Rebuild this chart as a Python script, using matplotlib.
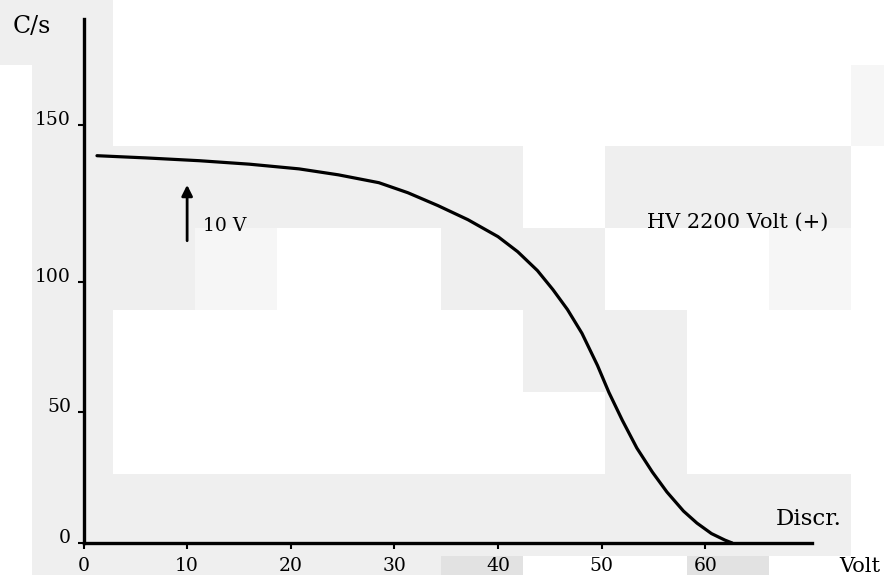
import numpy as np
import matplotlib
matplotlib.use('Agg')
import matplotlib.pyplot as plt
from matplotlib.patches import Rectangle

# Datos (C/s vs umbral del discriminador)
volt = [1.3, 6.0, 11.2, 16.0, 20.8, 24.6, 28.5, 31.3, 34.2, 37.1, 40.0, 41.9,
        43.8, 45.3, 46.7, 48.1, 49.6, 50.7, 52.0, 53.4, 54.9, 56.3, 57.9, 59.2,
        60.6, 61.9, 62.6]
rate = [140.1, 139.4, 138.5, 137.4, 135.9, 134.0, 131.5, 128.3, 124.2, 119.7,
        114.3, 109.5, 103.5, 96.9, 89.3, 80.2, 67.9, 57.6, 46.9, 36.3, 27.1,
        19.5, 12.2, 7.6, 3.6, 1.1, 0.0]
xticks = [0, 10, 20, 30, 40, 50, 60]
yticks = [0, 50, 100, 150]

# flecha de 10 V
arrow_x = 10
arrow_y0, arrow_y1 = 113, 130.8

W, H = 884, 575
fig = plt.figure(figsize=(W / 100, H / 100), dpi=100)
fig.patch.set_facecolor('white')

# fondo escaneado (bloques grises)
G, L, D = '#efefef', '#f6f6f6', '#e2e2e2'
blocks = [
    (0, 0, 113, 65, G), (32, 65, 113, 146, G), (851, 65, 884, 146, L),
    (32, 146, 523, 228, G), (605, 146, 851, 228, G),
    (32, 228, 195, 310, G), (195, 228, 277, 310, L), (441, 228, 605, 310, G),
    (769, 228, 851, 310, L),
    (32, 310, 113, 474, G), (523, 310, 687, 392, G), (605, 392, 687, 474, G),
    (32, 474, 851, 556, G), (32, 556, 441, 575, G),
    (441, 556, 523, 575, D), (687, 556, 769, 575, D),
]
for x0, y0, x1, y1, c in blocks:
    fig.add_artist(Rectangle((x0 / W, 1 - y1 / H), (x1 - x0) / W, (y1 - y0) / H,
                             transform=fig.transFigure, facecolor=c,
                             edgecolor='none', zorder=-1))

ax = fig.add_axes([83.5 / W, 1 - 543 / H, (812 - 83.5) / W, (543 - 19) / H])
ax.patch.set_visible(False)

# escala vertical del original (no lineal arriba de 100)
src = [-100, 0, 50, 100, 150, 400]
dst = [-100, 0, 50, 100, 160, 410]
fwd = lambda y: np.interp(y, src, dst)
inv = lambda y: np.interp(y, dst, src)
ax.set_yscale('function', functions=(fwd, inv))

ax.plot(volt, rate, color='black', lw=2.3, solid_joinstyle='round',
        solid_capstyle='round')

ax.set_xlim(0, 70.3)
ax.set_ylim(0, 190.4)
ax.set_xticks(xticks)
ax.set_yticks(yticks)
ax.minorticks_off()

font = 'DejaVu Serif'
ax.tick_params(axis='x', direction='out', length=4, width=1.5, pad=6,
               labelsize=13.5, labelfontfamily=font)
ax.tick_params(axis='y', direction='out', length=4, width=1.5, pad=5,
               labelsize=13.5, labelfontfamily=font)
for lab in ax.get_yticklabels():
    lab.set_verticalalignment('baseline')

for s in ['top', 'right']:
    ax.spines[s].set_visible(False)
for s in ['left', 'bottom']:
    ax.spines[s].set_linewidth(2.4)

ax.annotate('', xy=(arrow_x, arrow_y1), xytext=(arrow_x, arrow_y0),
            arrowprops=dict(arrowstyle='-|>', color='black', lw=2,
                            mutation_scale=16, shrinkA=0, shrinkB=0))
ax.text(11.56, 116.2, '10 V', fontsize=13.5, family=font, va='baseline')
ax.text(54.4, 117.2, 'HV 2200 Volt (+)', fontsize=15, family=font, va='baseline')
ax.text(66.8, 6.9, 'Discr.', fontsize=16.5, family=font, va='baseline')

fig.text(13 / W, 1 - 33 / H, 'C/s', fontsize=17, family=font, va='baseline')
fig.text(839 / W, 1 - 572 / H, 'Volt', fontsize=15, family=font, va='baseline')

fig.savefig('out.png', dpi=100)
